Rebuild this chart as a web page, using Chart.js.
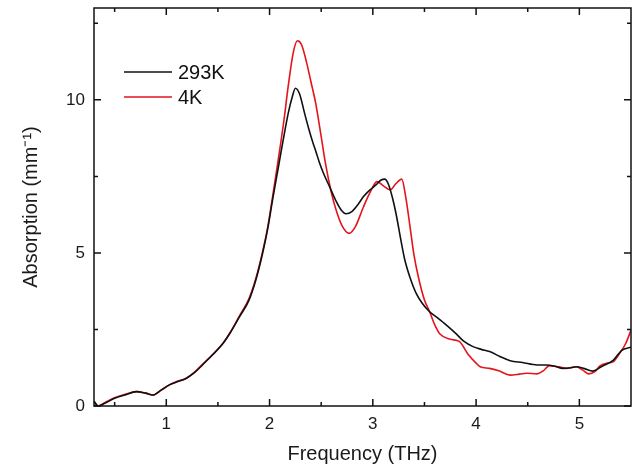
<!DOCTYPE html>
<html>
<head>
<meta charset="utf-8">
<script src="https://cdn.jsdelivr.net/npm/chart.js@4/dist/chart.umd.min.js"></script>
<style>
  html, body { margin: 0; padding: 0; background: #fff; }
  #wrap { width: 632px; height: 467px; }
</style>
</head>
<body>
<div id="wrap"><canvas id="absChart" width="632" height="467"></canvas></div>
<script>
// data (THz, mm^-1)
const freq293 = [0.30, 0.34, 0.40, 0.50, 0.60, 0.71, 0.80, 0.87, 0.95, 1.03, 1.10, 1.19, 1.27, 1.35, 1.45, 1.55, 1.62, 1.71, 1.80, 1.87, 1.93, 1.98, 2.03, 2.08, 2.13, 2.18, 2.22, 2.25, 2.29, 2.34, 2.38, 2.42, 2.45, 2.48, 2.52, 2.58, 2.64, 2.69, 2.74, 2.80, 2.86, 2.91, 2.97, 3.03, 3.08, 3.115, 3.15, 3.19, 3.23, 3.27, 3.31, 3.36, 3.42, 3.48, 3.55, 3.63, 3.71, 3.80, 3.88, 3.97, 4.05, 4.13, 4.23, 4.33, 4.45, 4.59, 4.68, 4.76, 4.84, 4.92, 4.97, 5.05, 5.13, 5.22, 5.33, 5.41, 5.50];
const abs293 = [0.15, 0.00, 0.08, 0.25, 0.36, 0.47, 0.42, 0.36, 0.52, 0.69, 0.78, 0.90, 1.08, 1.34, 1.68, 2.05, 2.40, 2.92, 3.45, 4.15, 4.95, 5.75, 6.75, 7.70, 8.65, 9.55, 10.10, 10.38, 10.20, 9.55, 9.05, 8.60, 8.30, 7.98, 7.62, 7.17, 6.72, 6.42, 6.28, 6.36, 6.60, 6.84, 7.05, 7.22, 7.38, 7.41, 7.25, 6.80, 6.19, 5.45, 4.77, 4.20, 3.68, 3.35, 3.08, 2.87, 2.65, 2.38, 2.12, 1.94, 1.85, 1.78, 1.62, 1.48, 1.42, 1.34, 1.34, 1.30, 1.23, 1.25, 1.28, 1.22, 1.14, 1.30, 1.50, 1.82, 1.92];

const freq4 = [0.30, 0.34, 0.40, 0.50, 0.60, 0.71, 0.80, 0.87, 0.95, 1.03, 1.10, 1.19, 1.27, 1.35, 1.45, 1.55, 1.62, 1.71, 1.80, 1.87, 1.93, 1.98, 2.03, 2.08, 2.14, 2.18, 2.23, 2.27, 2.31, 2.36, 2.40, 2.446, 2.50, 2.54, 2.60, 2.64, 2.70, 2.77, 2.83, 2.91, 2.97, 3.04, 3.10, 3.17, 3.22, 3.28, 3.32, 3.36, 3.40, 3.44, 3.50, 3.55, 3.60, 3.65, 3.75, 3.84, 3.92, 4.00, 4.04, 4.13, 4.22, 4.33, 4.42, 4.49, 4.59, 4.65, 4.71, 4.80, 4.88, 4.97, 5.03, 5.09, 5.15, 5.20, 5.27, 5.33, 5.39, 5.45, 5.50];
const abs4 = [0.15, 0.00, 0.10, 0.27, 0.38, 0.47, 0.42, 0.36, 0.52, 0.69, 0.80, 0.90, 1.10, 1.36, 1.68, 2.05, 2.40, 2.95, 3.50, 4.20, 5.00, 5.80, 6.85, 7.95, 9.35, 10.43, 11.55, 11.93, 11.80, 11.20, 10.60, 9.90, 8.80, 7.95, 6.95, 6.45, 5.90, 5.64, 5.85, 6.51, 6.95, 7.33, 7.20, 7.06, 7.25, 7.41, 6.80, 5.86, 4.90, 4.23, 3.46, 3.08, 2.65, 2.35, 2.18, 2.10, 1.70, 1.40, 1.28, 1.23, 1.15, 1.01, 1.04, 1.07, 1.05, 1.15, 1.32, 1.28, 1.23, 1.28, 1.18, 1.05, 1.12, 1.31, 1.40, 1.45, 1.72, 2.05, 2.48];

const xMajor = [1, 2, 3, 4, 5];
const xMinor = [0.5, 1.5, 2.5, 3.5, 4.5];
const yMajor = [0, 5, 10];
const yMinor = [2.5, 7.5, 12.5];

const seriesLabels = ["293K", "4K"];
const seriesColors = ["#111111", "#e3141c"];

const toPoints = (xs, ys) => xs.map((x, i) => ({ x: x, y: ys[i] }));

// frame, inward ticks, legend
const framePlugin = {
  id: "frame",
  afterDatasetsDraw(chart) {
    const ctx = chart.ctx;
    const a = chart.chartArea;
    const xs = chart.scales.x;
    const ys = chart.scales.y;
    ctx.save();
    ctx.strokeStyle = "#111";
    ctx.lineWidth = 1.5;
    ctx.strokeRect(a.left, a.top, a.right - a.left, a.bottom - a.top);

    const tick = (vals, len) => {
      vals.forEach((v) => {
        const px = xs.getPixelForValue(v);
        ctx.beginPath();
        ctx.moveTo(px, a.bottom);
        ctx.lineTo(px, a.bottom - len);
        ctx.moveTo(px, a.top);
        ctx.lineTo(px, a.top + len);
        ctx.stroke();
      });
    };
    const ytick = (vals, len) => {
      vals.forEach((v) => {
        const py = ys.getPixelForValue(v);
        ctx.beginPath();
        ctx.moveTo(a.left, py);
        ctx.lineTo(a.left + len, py);
        ctx.moveTo(a.right, py);
        ctx.lineTo(a.right - len, py);
        ctx.stroke();
      });
    };
    tick(xMajor, 7);
    tick(xMinor, 4);
    ytick(yMajor, 7);
    ytick(yMinor, 4);

    // legend
    ctx.font = "20px 'Liberation Sans', Arial, sans-serif";
    ctx.textBaseline = "middle";
    ctx.textAlign = "left";
    chart.data.datasets.forEach((ds, i) => {
      const y = 72 + i * 25;
      ctx.strokeStyle = ds.borderColor;
      ctx.lineWidth = 1.6;
      ctx.beginPath();
      ctx.moveTo(124, y);
      ctx.lineTo(172, y);
      ctx.stroke();
      ctx.fillStyle = "#111";
      ctx.fillText(ds.label, 178, y + 1);
    });
    ctx.restore();
  },
};

const tickFont = { family: "'Liberation Sans', Arial, sans-serif", size: 17 };
const titleFont = { family: "'Liberation Sans', Arial, sans-serif", size: 20 };

new Chart(document.getElementById("absChart"), {
  type: "line",
  data: {
    datasets: [
      {
        label: seriesLabels[0],
        data: toPoints(freq293, abs293),
        borderColor: seriesColors[0],
        borderWidth: 1.6,
        pointRadius: 0,
        cubicInterpolationMode: "monotone",
      },
      {
        label: seriesLabels[1],
        data: toPoints(freq4, abs4),
        borderColor: seriesColors[1],
        borderWidth: 1.6,
        pointRadius: 0,
        cubicInterpolationMode: "monotone",
      },
    ],
  },
  options: {
    responsive: false,
    animation: false,
    layout: { padding: { top: 8, right: 1, left: 0, bottom: 0 } },
    plugins: { legend: { display: false }, tooltip: { enabled: false } },
    scales: {
      x: {
        type: "linear",
        min: 0.3,
        max: 5.5,
        afterBuildTicks: (s) => { s.ticks = xMajor.map((v) => ({ value: v })); },
        afterFit: (s) => { s.height = 61; s.paddingLeft = 0; s.paddingRight = 0; },
        grid: { display: false, drawTicks: false },
        border: { display: false },
        ticks: { font: tickFont, color: "#1a1a1a", padding: 8, maxRotation: 0 },
        title: {
          display: true,
          text: "Frequency (THz)",
          font: titleFont,
          color: "#1a1a1a",
          padding: { top: 0, bottom: 1 },
        },
      },
      y: {
        min: 0,
        max: 13,
        afterBuildTicks: (s) => { s.ticks = yMajor.map((v) => ({ value: v })); },
        afterFit: (s) => { s.width = 94; s.paddingTop = 0; s.paddingBottom = 0; },
        grid: { display: false, drawTicks: false },
        border: { display: false },
        ticks: { font: tickFont, color: "#1a1a1a", padding: 9 },
        title: {
          display: true,
          text: "Absorption (mm\u207B\u00B9)",
          font: titleFont,
          color: "#1a1a1a",
          padding: { top: 19, bottom: 0 },
        },
      },
    },
  },
  plugins: [framePlugin],
});
</script>
</body>
</html>
